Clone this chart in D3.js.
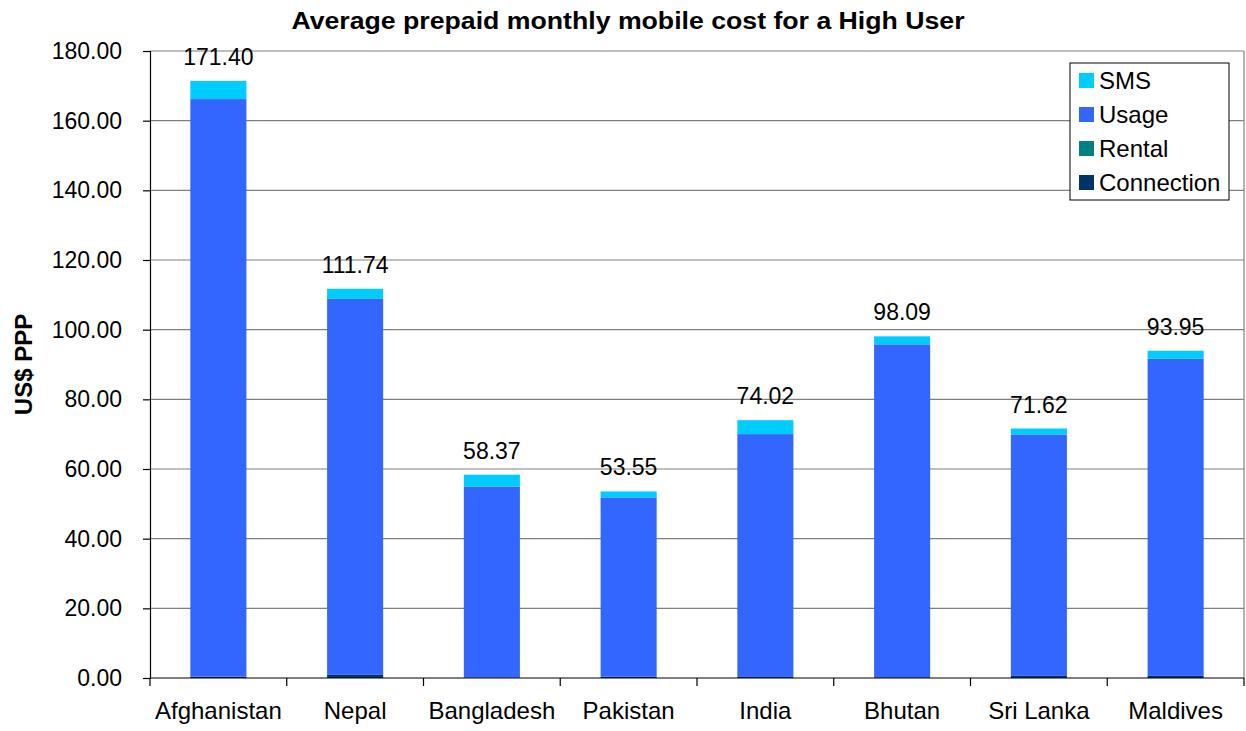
<!DOCTYPE html>
<html>
<head>
<meta charset="utf-8">
<script src="https://cdn.jsdelivr.net/npm/d3@7"></script>
<style>
  body { margin: 0; background: #fff; }
  text { font-family: "Liberation Sans", Arial, sans-serif; }
</style>
</head>
<body>
<div id="chart"></div>
<script>
// Data
const countries = ["Afghanistan", "Nepal", "Bangladesh", "Pakistan", "India", "Bhutan", "Sri Lanka", "Maldives"];
const connection = [0.4, 0.9, 0.1, 0.35, 0.3, 0.2, 0.6, 0.6];
const rental = [0, 0, 0, 0, 0, 0, 0, 0];
const usage = [165.8, 107.94, 54.87, 51.5, 69.72, 95.59, 69.32, 91.05];
const sms = [5.2, 2.9, 3.4, 1.7, 4.0, 2.3, 1.7, 2.3];
const totals = [171.40, 111.74, 58.37, 53.55, 74.02, 98.09, 71.62, 93.95];
const yTicks = [0, 20, 40, 60, 80, 100, 120, 140, 160, 180];

const seriesKeys = ["Connection", "Rental", "Usage", "SMS"];
const color = d3.scaleOrdinal()
  .domain(seriesKeys)
  .range(["#003366", "#008080", "#3366FF", "#00CCFF"]);

const width = 1246;
const height = 731;
const margin = { top: 51, right: 2, bottom: 53, left: 150 };

const svg = d3.select("#chart")
  .append("svg")
  .attr("width", width)
  .attr("height", height);

// table for the stack
const table = countries.map((c, i) => ({
  country: c,
  Connection: connection[i],
  Rental: rental[i],
  Usage: usage[i],
  SMS: sms[i],
  total: totals[i]
}));

const x = d3.scaleBand()
  .domain(countries)
  .range([margin.left, width - margin.right])
  .paddingInner(0.59)
  .paddingOuter(0.295);

const y = d3.scaleLinear()
  .domain([0, 180])
  .range([height - margin.bottom, margin.top]);

// gridlines
svg.append("g")
  .selectAll("line")
  .data(yTicks.slice(1))
  .enter()
  .append("line")
  .attr("x1", margin.left)
  .attr("x2", width - margin.right)
  .attr("y1", (d) => y(d))
  .attr("y2", (d) => y(d))
  .attr("stroke", "#808080")
  .attr("stroke-width", 1.2);

// right border of the plot area
svg.append("line")
  .attr("x1", width - margin.right)
  .attr("x2", width - margin.right)
  .attr("y1", margin.top)
  .attr("y2", height - margin.bottom)
  .attr("stroke", "#808080")
  .attr("stroke-width", 1.2);

// stacked bars
const stacked = d3.stack().keys(seriesKeys)(table);

svg.append("g")
  .selectAll("g")
  .data(stacked)
  .enter()
  .append("g")
  .attr("fill", (d) => color(d.key))
  .selectAll("rect")
  .data((d) => d)
  .enter()
  .append("rect")
  .attr("x", (d) => x(d.data.country))
  .attr("y", (d) => y(d[1]))
  .attr("height", (d) => y(d[0]) - y(d[1]))
  .attr("width", x.bandwidth());

// value labels
svg.append("g")
  .selectAll("text")
  .data(table)
  .enter()
  .append("text")
  .attr("x", (d) => x(d.country) + x.bandwidth() / 2)
  .attr("y", (d) => y(d.total) - 16)
  .attr("text-anchor", "middle")
  .attr("font-size", "23px")
  .attr("fill", "#000")
  .text((d) => d.total.toFixed(2));

// y axis
svg.append("g")
  .attr("transform", `translate(${margin.left},0)`)
  .call(d3.axisLeft(y).tickValues(yTicks).tickFormat((d) => d.toFixed(2)).tickSizeOuter(0).tickSize(7).tickPadding(21))
  .call((g) => g.select(".domain").attr("stroke", "#000").attr("stroke-width", 1.2))
  .call((g) => g.selectAll(".tick line").attr("stroke", "#000").attr("stroke-width", 1.2))
  .call((g) => g.selectAll(".tick text")
    .attr("font-size", "23px")
    .attr("fill", "#000")
    .style("font-family", "Liberation Sans, Arial, sans-serif"));

// x axis with ticks at category boundaries
const xAxisG = svg.append("g")
  .attr("transform", `translate(0,${height - margin.bottom})`);

xAxisG.append("line")
  .attr("x1", margin.left)
  .attr("x2", width - margin.right)
  .attr("stroke", "#000")
  .attr("stroke-width", 1.2);

const plotW = width - margin.right - margin.left;
xAxisG.selectAll(".bound")
  .data(d3.range(countries.length + 1))
  .enter()
  .append("line")
  .attr("class", "bound")
  .attr("x1", (i) => margin.left + i * plotW / countries.length)
  .attr("x2", (i) => margin.left + i * plotW / countries.length)
  .attr("y1", 0)
  .attr("y2", 8)
  .attr("stroke", "#000")
  .attr("stroke-width", 1.2);

xAxisG.selectAll(".lbl")
  .data(countries)
  .enter()
  .append("text")
  .attr("class", "lbl")
  .attr("x", (d) => x(d) + x.bandwidth() / 2)
  .attr("y", 41)
  .attr("text-anchor", "middle")
  .attr("font-size", "24px")
  .attr("fill", "#000")
  .text((d) => d);

// y axis title
svg.append("text")
  .attr("transform", `translate(32,${(margin.top + height - margin.bottom) / 2}) rotate(-90)`)
  .attr("text-anchor", "middle")
  .attr("font-size", "24px")
  .attr("font-weight", "bold")
  .text("US$ PPP");

// chart title (reference glyphs are wide, so stretch horizontally)
svg.append("text")
  .attr("transform", "translate(628,29) scale(1.16,1)")
  .attr("text-anchor", "middle")
  .attr("font-size", "23px")
  .attr("font-weight", "bold")
  .text("Average prepaid monthly mobile cost for a High User");

// legend
const legend = svg.append("g").attr("transform", "translate(1070,63)");
legend.append("rect")
  .attr("width", 159)
  .attr("height", 137)
  .attr("fill", "#fff")
  .attr("stroke", "#000")
  .attr("stroke-width", 1);

const legendKeys = ["SMS", "Usage", "Rental", "Connection"];
const item = legend.selectAll(".item")
  .data(legendKeys)
  .enter()
  .append("g")
  .attr("class", "item")
  .attr("transform", (d, i) => `translate(9,${18 + i * 34})`);

item.append("rect")
  .attr("x", 0)
  .attr("y", -8)
  .attr("width", 15)
  .attr("height", 15)
  .attr("fill", (d) => color(d));

item.append("text")
  .attr("x", 20)
  .attr("y", 8)
  .attr("font-size", "24px")
  .attr("fill", "#000")
  .text((d) => d);
</script>
</body>
</html>
